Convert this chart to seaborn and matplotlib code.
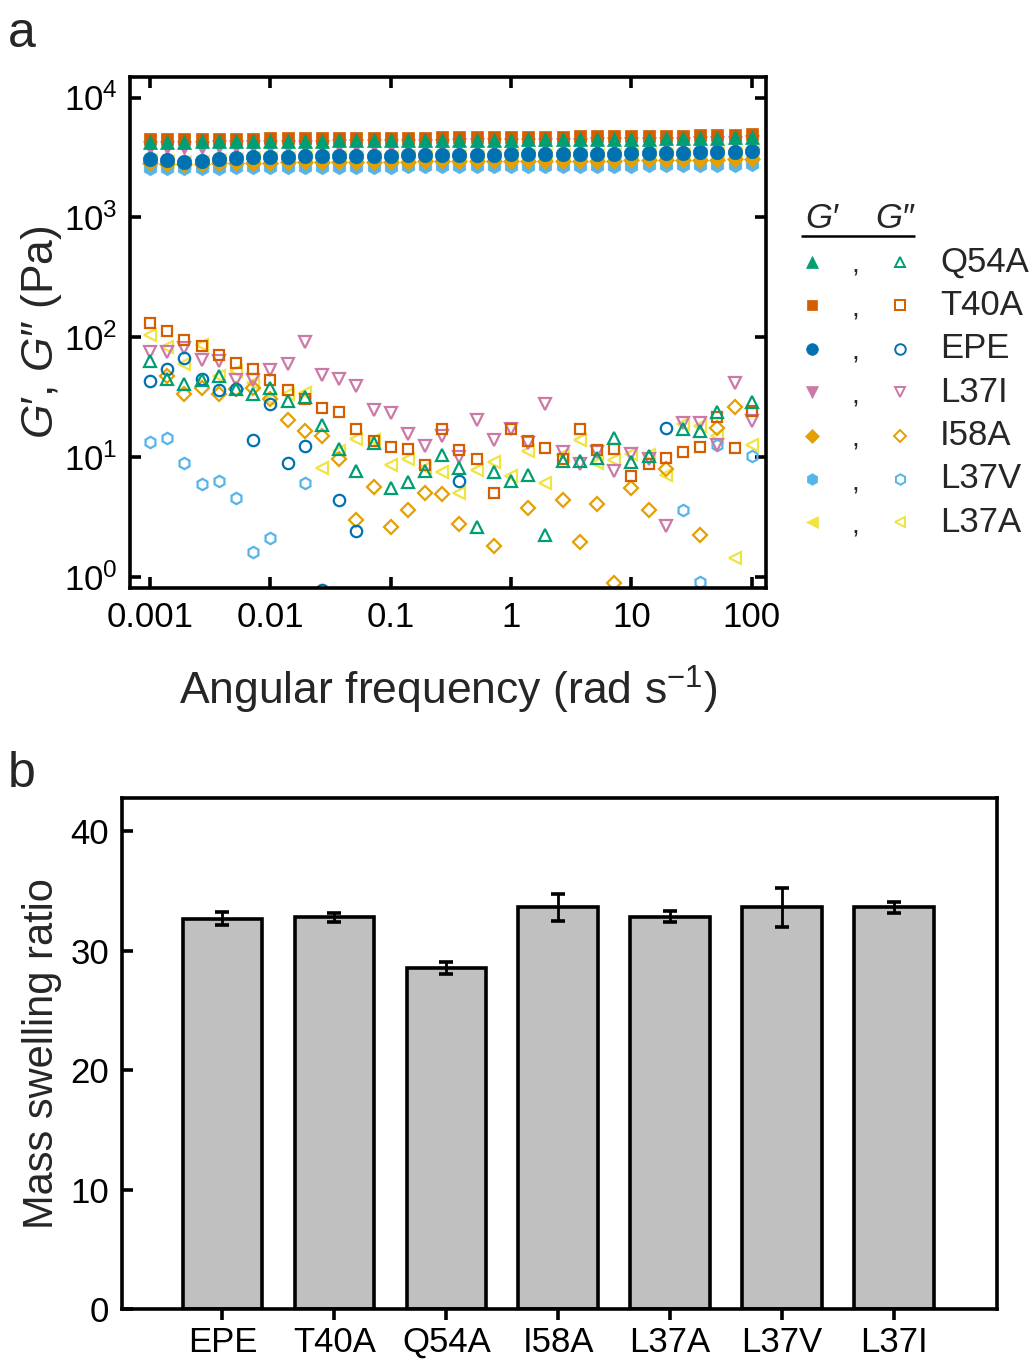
import numpy as np
import matplotlib
matplotlib.use("Agg")
import matplotlib.pyplot as plt
import seaborn as sns

sns.set_theme(style="white")
plt.rcParams["font.family"] = ["Liberation Sans", "DejaVu Sans"]
plt.rcParams["mathtext.fontset"] = "custom"
plt.rcParams["mathtext.rm"] = "Liberation Sans"
plt.rcParams["mathtext.it"] = "Liberation Sans:italic"
plt.rcParams["mathtext.bf"] = "Liberation Sans:bold"

nan = np.nan

# ---------------- frequency sweep (rad/s) ----------------
freq = [0.001, 0.001389, 0.001931, 0.002683, 0.003728, 0.005179, 0.007197,
        0.01, 0.01389, 0.01931, 0.02683, 0.03728, 0.05179, 0.07197,
        0.1, 0.1389, 0.1931, 0.2683, 0.3728, 0.5179, 0.7197,
        1.0, 1.389, 1.931, 2.683, 3.728, 5.179, 7.197,
        10.0, 13.89, 19.31, 26.83, 37.28, 51.79, 71.97, 100.0]

samples = ["Q54A", "T40A", "EPE", "L37I", "I58A", "L37V", "L37A"]
colors = ["#009E73", "#D55E00", "#0072B2", "#CC79A7", "#E69F00", "#56B4E9", "#F0E442"]
markers = ["^", "s", "o", "v", "D", "h", "<"]

# storage modulus G' (Pa)
Q54A_Gp = [4250, 4270, 4290, 4300, 4310, 4330, 4340, 4350, 4360, 4370, 4380, 4390,
           4400, 4400, 4410, 4420, 4430, 4430, 4440, 4450, 4460, 4460, 4470, 4480,
           4490, 4500, 4510, 4520, 4530, 4540, 4560, 4570, 4590, 4620, 4660, 4720]
T40A_Gp = [4470, 4490, 4510, 4520, 4530, 4540, 4550, 4560, 4570, 4580, 4590, 4600,
           4610, 4610, 4620, 4630, 4640, 4650, 4660, 4670, 4680, 4690, 4700, 4710,
           4720, 4730, 4740, 4750, 4760, 4780, 4790, 4810, 4830, 4860, 4900, 4960]
EPE_Gp = [3050, 3000, 2920, 2950, 3080, 3150, 3180, 3200, 3210, 3230, 3240, 3250,
          3260, 3270, 3280, 3290, 3300, 3310, 3320, 3330, 3340, 3350, 3360, 3370,
          3380, 3390, 3400, 3410, 3420, 3440, 3450, 3460, 3480, 3500, 3520, 3560]
L37I_Gp = [3800, 3810, 3800, 3820, 3840, 3850, 3860, 3870, 3880, 3890, 3900, 3910,
           3920, 3930, 3940, 3950, 3960, 3970, 3980, 3990, 4000, 4010, 4020, 4030,
           4040, 4050, 4060, 4070, 4080, 4090, 4100, 4120, 4140, 4160, 4200, 4250]
I58A_Gp = [2820, 2800, 2780, 2800, 2830, 2850, 2860, 2870, 2880, 2880, 2890, 2900,
           2900, 2910, 2920, 2920, 2930, 2930, 2940, 2940, 2950, 2950, 2960, 2960,
           2970, 2970, 2980, 2980, 2990, 3000, 3000, 3010, 3020, 3030, 3050, 3070]
L37V_Gp = [2600, 2580, 2560, 2580, 2600, 2610, 2620, 2620, 2630, 2630, 2640, 2640,
           2650, 2650, 2650, 2660, 2660, 2670, 2670, 2670, 2680, 2680, 2690, 2690,
           2690, 2700, 2700, 2710, 2710, 2720, 2720, 2730, 2740, 2750, 2760, 2780]
L37A_Gp = [3000, 2950, 2880, 2900, 3020, 3090, 3120, 3140, 3150, 3170, 3180, 3190,
           3200, 3210, 3220, 3230, 3240, 3250, 3260, 3270, 3280, 3290, 3300, 3310,
           3320, 3330, 3340, 3350, 3360, 3370, 3380, 3390, 3410, 3430, 3450, 3490]

# loss modulus G'' (Pa); NaN where the point lies outside the plotted range
Q54A_Gpp = [63.1, 44.9, 40.8, 44.5, 47.3, 37.0, 33.7, 37.9, 29.7, 31.8,
            18.7, 11.7, 7.65, 13.2, 5.57, 6.23, 7.74, 10.5, 8.2, 2.65,
            7.54, 6.37, 7.19, 2.26, 9.35, 9.35, 9.86, 14.5, 9.2, 10.2,
            nan, 17.2, 16.7, 23.8, nan, 28.7]
T40A_Gpp = [133, 114, 96, 84, 71.7, 61.5, 54.8, 44.4, 36.2, 30.4,
            25.9, 23.8, 17.3, 13.6, 12.1, 11.7, 8.7, 17.1, 11.5, 9.7,
            5.04, 17.1, 13.7, 11.9, 9.6, 17.2, 11.6, 11.8, 7.05, 8.8,
            9.9, 11.0, 12.2, 21.5, 12.0, 24.4]
EPE_Gpp = [43.0, 54.8, 67.7, 44.7, 36.7, 37.1, 14.0, 27.8, 9.04, 12.4,
           0.78, 4.38, 2.42, nan, nan, nan, nan, nan, 6.3, nan,
           nan, nan, nan, nan, nan, nan, nan, nan, nan, nan,
           17.4, nan, nan, nan, nan, nan]
L37I_Gpp = [75.4, 75.4, 81.0, 64.7, 63.7, 43.8, 44.1, 53.8, 60.4, 90.8,
            49.0, 45.3, 39.1, 24.6, 23.4, 15.8, 12.4, 15.1, 10.1, 20.5,
            13.9, 17.3, 13.2, 28.0, 11.0, 8.86, 11.0, 7.65, 10.6, 9.76,
            2.66, 19.5, 19.5, 12.7, 42.0, 20.0]
I58A_Gpp = [nan, 48.0, 33.5, 37.9, 33.6, 37.0, 37.7, 30.8, 20.3, 16.7,
            15.2, 9.76, 2.99, 5.7, 2.62, 3.66, 5.08, 4.98, 2.79, nan,
            1.83, nan, 3.78, nan, 4.38, 1.96, 4.06, 0.90, 5.59, 3.62,
            7.94, nan, 2.26, 17.6, 26.2, nan]
L37V_Gpp = [13.4, 14.5, 8.97, 5.96, 6.31, 4.58, 1.63, 2.13, nan, 6.07,
            nan, nan, nan, nan, nan, nan, nan, nan, nan, nan,
            nan, nan, nan, nan, nan, nan, nan, nan, nan, nan,
            nan, 3.62, 0.91, 12.7, nan, 10.3]
L37A_Gpp = [103.9, 82.5, 59.6, 85.8, 47.8, 52.6, 41.4, 30.8, 34.0, 34.1,
            8.13, 11.3, 14.1, 13.9, 8.63, 9.66, 8.09, 7.53, 5.03, 7.9,
            9.14, 6.95, 11.4, 6.11, 10.4, 13.9, 8.97, 9.44, 10.7, 10.4,
            7.15, 18.8, 18.3, 15.0, 1.46, 12.6]

storage = [Q54A_Gp, T40A_Gp, EPE_Gp, L37I_Gp, I58A_Gp, L37V_Gp, L37A_Gp]
loss = [Q54A_Gpp, T40A_Gpp, EPE_Gpp, L37I_Gpp, I58A_Gpp, L37V_Gpp, L37A_Gpp]

x_ticks = [0.001, 0.01, 0.1, 1, 10, 100]
x_ticklabels = ["0.001", "0.01", "0.1", "1", "10", "100"]
y_ticks = [1, 10, 100, 1000, 10000]
y_ticklabels = [r"$10^{0}$", r"$10^{1}$", r"$10^{2}$", r"$10^{3}$", r"$10^{4}$"]

# ---------------- swelling data ----------------
bar_labels = ["EPE", "T40A", "Q54A", "I58A", "L37A", "L37V", "L37I"]
bar_values = [32.7, 32.8, 28.55, 33.65, 32.85, 33.65, 33.65]
bar_errors = [0.55, 0.35, 0.5, 1.15, 0.45, 1.65, 0.45]

# per-marker size factors so the symbols look equally large
open_scale = {"^": 1.0, "s": 0.95, "o": 1.0, "v": 1.0, "D": 0.85, "h": 1.0, "<": 1.0}
fill_scale = {"^": 1.0, "s": 0.85, "o": 1.0, "v": 1.0, "D": 0.8, "h": 1.0, "<": 1.0}

# ---------------- figure ----------------
fig = plt.figure(figsize=(10.32, 13.6), dpi=100)
SPINE = 2.6
TICKFS = 25

ax = fig.add_axes([0.126, 0.5676, 0.616, 0.3757])
ax.set_xscale("log")
ax.set_yscale("log")

# draw last-listed samples first so Q54A sits on top
for name, c, m, gp, gpp in reversed(list(zip(samples, colors, markers, storage, loss))):
    sns.lineplot(x=freq, y=gpp, ax=ax, linestyle="", marker=m,
                 markersize=8.2 * open_scale[m], markerfacecolor="none",
                 markeredgecolor=c, markeredgewidth=1.6, color=c,
                 errorbar=None, legend=False)
    sns.lineplot(x=freq, y=gp, ax=ax, linestyle="", marker=m,
                 markersize=10.4 * fill_scale[m], markerfacecolor=c,
                 markeredgecolor=c, markeredgewidth=0.5, color=c,
                 errorbar=None, legend=False)

ax.set_xlim(10 ** -3.166, 10 ** 2.116)
ax.set_ylim(10 ** -0.09, 10 ** 4.17)
ax.xaxis.set_major_locator(matplotlib.ticker.FixedLocator(x_ticks))
ax.xaxis.set_major_formatter(matplotlib.ticker.FixedFormatter(x_ticklabels))
ax.xaxis.set_minor_locator(matplotlib.ticker.NullLocator())
ax.yaxis.set_major_locator(matplotlib.ticker.FixedLocator(y_ticks))
ax.yaxis.set_major_formatter(matplotlib.ticker.FixedFormatter(y_ticklabels))
ax.yaxis.set_minor_locator(matplotlib.ticker.NullLocator())
ax.tick_params(axis="both", which="major", direction="in", length=8, width=SPINE,
               top=True, right=True, bottom=True, left=True,
               labelsize=TICKFS, pad=9, colors="black")
for s in ax.spines.values():
    s.set_linewidth(SPINE)
    s.set_color("black")
ax.set_xlabel(r"Angular frequency (rad s$^{\mathregular{-1}}$)", fontsize=32, labelpad=22)
ax.set_ylabel(r"$\mathit{G}$′, $\mathit{G}$″ (Pa)", fontsize=32, labelpad=0)

# legend: filled (G') and open (G'') symbols per sample
lg = fig.add_axes([790 / 1032, 1 - 555 / 1360, 242 / 1032, 365 / 1360])
lg.set_xlim(790, 1032)
lg.set_ylim(555, 190)
lg.axis("off")
lg.text(822, 218, r"$\mathit{G}$′", fontsize=25, ha="center", va="center")
lg.text(895, 218, r"$\mathit{G}$″", fontsize=25, ha="center", va="center")
lg.plot([801, 915], [236, 236], color="black", lw=1.8, solid_capstyle="butt")
row0, step = 262, 43.4
for i, (name, c, m) in enumerate(zip(samples, colors, markers)):
    yy = row0 + i * step
    lg.plot([812], [yy], marker=m, ms=8.4 * fill_scale[m], mfc=c, mec=c, mew=0.5, ls="")
    lg.plot([900], [yy], marker=m, ms=7.6 * open_scale[m], mfc="none", mec=c, mew=1.4, ls="")
    lg.text(855, yy + 4, ",", fontsize=20, ha="center", va="center")
    lg.text(940, yy, name, fontsize=25, ha="left", va="center")

# ---------------- bar panel ----------------
ax2 = fig.add_axes([0.118, 0.0375, 0.848, 0.3757])
sns.barplot(x=bar_labels, y=bar_values, ax=ax2, color="#C0C0C0", saturation=1,
            edgecolor="black", linewidth=2.6, width=0.71, errorbar=None)
ax2.errorbar(x=np.arange(len(bar_labels)), y=bar_values, yerr=bar_errors,
             fmt="none", ecolor="black", elinewidth=2.0, capsize=5, capthick=2.6,
             zorder=5)
ax2.set_ylim(0, 42.8)
ax2.set_xlim(-0.9, 6.92)
ax2.set_yticks([0, 10, 20, 30, 40])
ax2.tick_params(axis="y", direction="in", length=8, width=SPINE, left=True,
                labelsize=TICKFS, pad=9, colors="black")
ax2.tick_params(axis="x", direction="out", length=8, width=SPINE, bottom=True,
                labelsize=TICKFS, pad=4, colors="black")
for s in ax2.spines.values():
    s.set_linewidth(SPINE)
    s.set_color("black")
ax2.set_ylabel("Mass swelling ratio", fontsize=30, labelpad=6)
ax2.set_xlabel("")

fig.text(0.008, 0.992, "a", fontsize=36, ha="left", va="top")
fig.text(0.008, 0.448, "b", fontsize=36, ha="left", va="top")

fig.savefig("out.png", dpi=100, facecolor="white")
